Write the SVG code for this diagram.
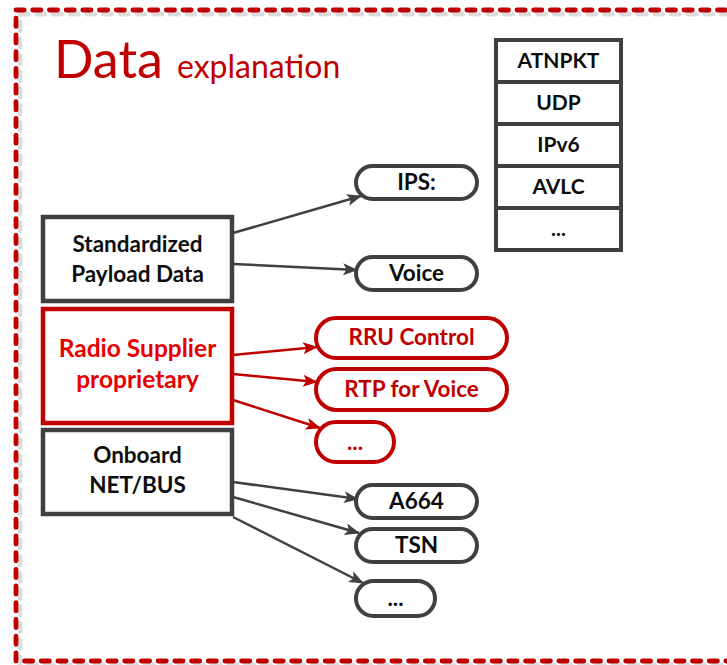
<svg xmlns="http://www.w3.org/2000/svg" width="727" height="665" viewBox="0 0 727 665">
  <defs>
    <marker id="arrowGray" markerWidth="16" markerHeight="14" refX="14" refY="7" orient="auto" markerUnits="userSpaceOnUse">
      <path d="M0,1 L15,7 L0,13 L3.5,7 z" fill="#404040"/>
    </marker>
    <marker id="arrowRed" markerWidth="16" markerHeight="14" refX="14" refY="7" orient="auto" markerUnits="userSpaceOnUse">
      <path d="M0,1 L15,7 L0,13 L3.5,7 z" fill="#c00000"/>
    </marker>
  </defs>
  <style>
    .frame { fill: none; stroke-width: 4.8; stroke-dasharray: 8.2 8.5; stroke-linecap: round; }
    .box { fill: #ffffff; stroke: #404040; stroke-width: 4.5; }
    .box.red { stroke: #c00000; }
    .pill { fill: #ffffff; stroke: #404040; stroke-width: 4; }
    .pill.red { stroke: #c00000; }
    .cell { fill: #ffffff; stroke: #404040; stroke-width: 4; }
    .lbl { font-family: Lato, "Liberation Sans", sans-serif; font-weight: bold; font-size: 22.5px; fill: #0d0d0d; text-anchor: middle; }
    .lbl.small { font-size: 21px; }
    .lbl.red { fill: #c00000; }
    .lbl.bright { fill: #e60000; font-size: 24.5px; }
    .title { font-family: Lato, "Liberation Sans", sans-serif; fill: #c00000; }
    .conn { fill: none; stroke: #404040; stroke-width: 2.5; marker-end: url(#arrowGray); }
    .conn.red { stroke: #c00000; marker-end: url(#arrowRed); }
  </style>

  <!-- dashed frame with soft gray shadow; right side runs off the canvas -->
  <g id="frame">
    <rect class="frame" x="20" y="14" width="760" height="651" stroke="#dcdcdc"/>
    <rect class="frame" x="16" y="10" width="760" height="651" stroke="#c00000"/>
  </g>

  <g id="title">
    <text class="title" x="54" y="78" font-size="52">Data</text>
    <text class="title" x="177" y="78" font-size="32">explanation</text>
  </g>

  <!-- protocol stack -->
  <g id="stack">
    <rect class="cell" x="496" y="40" width="125" height="42"/>
    <rect class="cell" x="496" y="82" width="125" height="42"/>
    <rect class="cell" x="496" y="124" width="125" height="42"/>
    <rect class="cell" x="496" y="166" width="125" height="42"/>
    <rect class="cell" x="496" y="208" width="125" height="42"/>
    <text class="lbl small" x="558.5" y="68">ATNPKT</text>
    <text class="lbl small" x="558.5" y="110">UDP</text>
    <text class="lbl small" x="558.5" y="152">IPv6</text>
    <text class="lbl small" x="558.5" y="194">AVLC</text>
    <text class="lbl small" x="558.5" y="236">...</text>
  </g>

  <!-- source boxes -->
  <g id="standardized">
    <rect class="box" x="43" y="217" width="189" height="84"/>
    <text class="lbl" x="137.5" y="252">Standardized</text>
    <text class="lbl" x="137.5" y="282">Payload Data</text>
  </g>
  <g id="radio-supplier">
    <rect class="box red" x="43" y="309" width="189" height="114"/>
    <text class="lbl bright" x="137.5" y="357">Radio Supplier</text>
    <text class="lbl bright" x="137.5" y="388">proprietary</text>
  </g>
  <g id="onboard">
    <rect class="box" x="43" y="430" width="189" height="84"/>
    <text class="lbl" x="137.5" y="463">Onboard</text>
    <text class="lbl" x="137.5" y="493">NET/BUS</text>
  </g>

  <!-- target pills -->
  <g id="ips">
    <rect class="pill" x="356" y="166" width="121" height="33" rx="16.5"/>
    <text class="lbl" x="416.5" y="190">IPS:</text>
  </g>
  <g id="voice">
    <rect class="pill" x="356" y="257" width="121" height="33" rx="16.5"/>
    <text class="lbl" x="416.5" y="281">Voice</text>
  </g>
  <g id="rru-control">
    <rect class="pill red" x="316" y="318" width="191" height="40" rx="20"/>
    <text class="lbl red" x="411.5" y="345">RRU Control</text>
  </g>
  <g id="rtp-voice">
    <rect class="pill red" x="316" y="369" width="191" height="41" rx="20.5"/>
    <text class="lbl red" x="411.5" y="397">RTP for Voice</text>
  </g>
  <g id="radio-more">
    <rect class="pill red" x="316" y="422" width="78" height="40" rx="20"/>
    <text class="lbl red" x="355" y="450">...</text>
  </g>
  <g id="a664">
    <rect class="pill" x="356" y="485" width="121" height="33" rx="16.5"/>
    <text class="lbl" x="416.5" y="509">A664</text>
  </g>
  <g id="tsn">
    <rect class="pill" x="356" y="529" width="121" height="33" rx="16.5"/>
    <text class="lbl" x="416.5" y="553">TSN</text>
  </g>
  <g id="onboard-more">
    <rect class="pill" x="356" y="581" width="79" height="35" rx="17.5"/>
    <text class="lbl" x="395.5" y="606">...</text>
  </g>

  <!-- connectors -->
  <g id="connectors">
    <line class="conn" x1="233" y1="233" x2="361" y2="196"/>
    <line class="conn" x1="233" y1="264" x2="357" y2="270"/>
    <line class="conn red" x1="233" y1="355" x2="317" y2="347"/>
    <line class="conn red" x1="233" y1="374" x2="317" y2="382"/>
    <line class="conn red" x1="233" y1="400" x2="320" y2="428"/>
    <line class="conn" x1="233" y1="482" x2="358" y2="499"/>
    <line class="conn" x1="233" y1="497" x2="359" y2="533"/>
    <line class="conn" x1="233" y1="517" x2="363" y2="583"/>
  </g>
</svg>
